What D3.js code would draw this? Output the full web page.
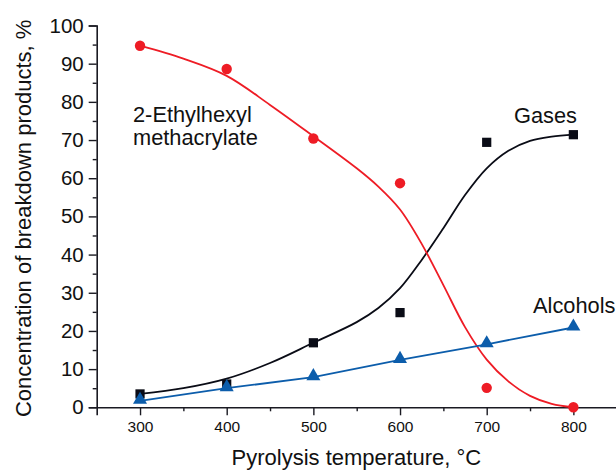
<!DOCTYPE html>
<html>
<head>
<meta charset="utf-8">
<script src="https://cdn.jsdelivr.net/npm/d3@7"></script>
<style>
  html, body { margin: 0; padding: 0; background: #fff; }
  svg { display: block; font-family: "Liberation Sans", Arial, sans-serif; }
</style>
</head>
<body>
<svg id="chart" width="616" height="470"></svg>
<script>
// ---- data ----
const temperatures = [300, 400, 500, 600, 700, 800];
const ehmaValues    = [94.7, 88.6, 70.4, 58.7, 5.1, 0.0];
const gasesValues   = [3.5, 6.1, 16.9, 24.8, 69.4, 71.4];
const alcoholValues = [1.7, 5.0, 7.9, 12.4, 16.5, 20.9];

// smooth fitted curves as drawn in the reference (read at these temperatures)
const fitTemps  = [300, 350, 400, 450, 500, 550, 575, 600, 625, 650, 675, 700, 725, 750, 775, 800];
const ehmaFit   = [94.7, 91.3, 86.8, 79.2, 71.0, 62.6, 57.8, 51.8, 42.8, 32.0, 21.0, 12.5, 6.8, 3.0, 0.9, 0.0];
const gasesFit  = [3.5, 5.0, 7.5, 11.6, 16.9, 22.3, 26.0, 31.2, 38.6, 46.9, 55.6, 62.6, 67.2, 69.8, 70.9, 71.4];

const xTicks = [300, 400, 500, 600, 700, 800];
const xMinorTicks = [350, 450, 550, 650, 750, 850];
const yTicks = [0, 10, 20, 30, 40, 50, 60, 70, 80, 90, 100];
const yMinorTicks = [5, 15, 25, 35, 45, 55, 65, 75, 85, 95];

const xTitle = "Pyrolysis temperature, \u00B0C";
const yTitle = "Concentration of breakdown products, %";

// ---- drawing ----
const RED = "#ee1c25", BLACK = "#0a0c16", BLUE = "#0c5dab", AXIS = "#1a1a22";
const svg = d3.select("#chart");
const x = d3.scaleLinear().domain([250, 850]).range([96.7, 616.7]);
const y = d3.scaleLinear().domain([0, 100]).range([407.3, 25.5]);

// axes
const xAxis = svg.append("g").attr("transform", `translate(0,${y(0)})`)
  .call(d3.axisBottom(x).tickValues(xTicks).tickSize(8).tickPadding(6).tickFormat(d3.format("d")));
const xMinor = svg.append("g").attr("transform", `translate(0,${y(0)})`)
  .call(d3.axisBottom(x).tickValues(xMinorTicks).tickSize(4).tickFormat(""));
const yAxis = svg.append("g").attr("transform", `translate(${x(250)},0)`)
  .call(d3.axisLeft(y).tickValues(yTicks).tickSize(8).tickPadding(5).tickFormat(d3.format("d")));
const yMinor = svg.append("g").attr("transform", `translate(${x(250)},0)`)
  .call(d3.axisLeft(y).tickValues(yMinorTicks).tickSize(4).tickFormat(""));

[xAxis, xMinor, yAxis, yMinor].forEach(g => {
  g.select(".domain").attr("stroke", AXIS).attr("stroke-width", 1.6);
  g.selectAll(".tick line").attr("stroke", AXIS).attr("stroke-width", 1.4);
});
xMinor.select(".domain").remove();
yMinor.select(".domain").remove();
xAxis.selectAll(".tick text").attr("font-size", 15.5).attr("fill", "#111")
  .attr("font-family", "Liberation Sans, Arial, sans-serif");
yAxis.selectAll(".tick text").attr("font-size", 20.5).attr("fill", "#111")
  .attr("font-family", "Liberation Sans, Arial, sans-serif");

// axis titles
svg.append("text").attr("x", (x(250) + 616) / 2).attr("y", 465)
  .attr("text-anchor", "middle").attr("font-size", 22).attr("fill", "#111").text(xTitle);
svg.append("text").attr("transform", `translate(31,${(y(0) + y(100)) / 2 + 2}) rotate(-90)`)
  .attr("text-anchor", "middle").attr("font-size", 22).attr("fill", "#111").text(yTitle);

// lines
const fitLine = d3.line().x(d => x(d[0])).y(d => y(d[1])).curve(d3.curveCatmullRom.alpha(0.5));
const straight = d3.line().x(d => x(d[0])).y(d => y(d[1]));

svg.append("path").datum(d3.zip(fitTemps, gasesFit)).attr("d", fitLine)
  .attr("fill", "none").attr("stroke", BLACK).attr("stroke-width", 1.8);
svg.append("path").datum(d3.zip(fitTemps, ehmaFit)).attr("d", fitLine)
  .attr("fill", "none").attr("stroke", RED).attr("stroke-width", 1.8);
svg.append("path").datum(d3.zip(temperatures, alcoholValues)).attr("d", straight)
  .attr("fill", "none").attr("stroke", BLUE).attr("stroke-width", 1.8);

// markers
const sq = d3.symbol().type(d3.symbolSquare).size(85);
const tri = d3.symbol().type(d3.symbolTriangle).size(85);

svg.append("g").selectAll("path").data(d3.zip(temperatures, gasesValues)).join("path")
  .attr("d", sq).attr("transform", d => `translate(${x(d[0])},${y(d[1])})`).attr("fill", BLACK);
svg.append("g").selectAll("path").data(d3.zip(temperatures, alcoholValues)).join("path")
  .attr("d", tri).attr("transform", d => `translate(${x(d[0])},${y(d[1]) - 1})`).attr("fill", BLUE);
svg.append("g").selectAll("circle").data(d3.zip(temperatures, ehmaValues)).join("circle")
  .attr("cx", d => x(d[0])).attr("cy", d => y(d[1])).attr("r", 5.2).attr("fill", RED);

// annotations
const lbl = (tx, ty, t, anchor) => svg.append("text").attr("x", tx).attr("y", ty)
  .attr("text-anchor", anchor || "start").attr("font-size", 21.8).attr("fill", "#111").text(t);
lbl(133, 122, "2-Ethylhexyl");
lbl(133, 145, "methacrylate");
lbl(577, 123, "Gases", "end");
lbl(533, 313, "Alcohols");
</script>
</body>
</html>
